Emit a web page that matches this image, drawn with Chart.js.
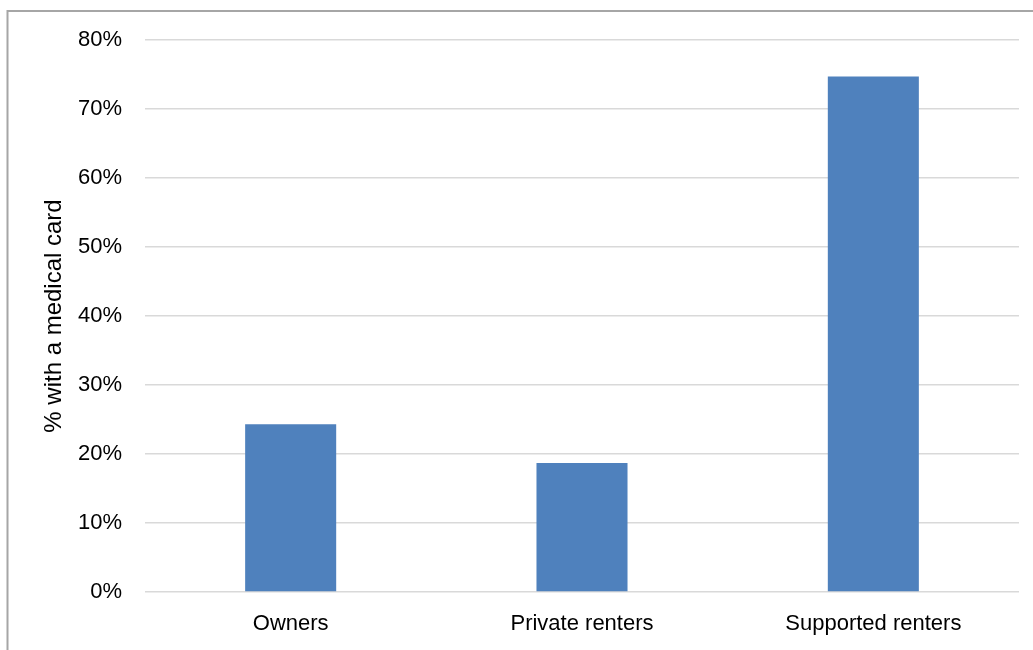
<!DOCTYPE html>
<html>
<head>
<meta charset="utf-8">
<script src="https://cdn.jsdelivr.net/npm/chart.js@4"></script>
<style>
  html, body { margin: 0; padding: 0; background: #fff; }
  #wrap { position: relative; width: 1033px; height: 650px; }
</style>
</head>
<body>
<div id="wrap"><canvas id="medicalChart"></canvas></div>
<script>
const categories = ["Owners", "Private renters", "Supported renters"];
const medicalCardPct = [24.3, 18.7, 74.7];
const yTicks = [0, 10, 20, 30, 40, 50, 60, 70, 80];

// outer frame of the chart (only left and top edges are visible)
const framePlugin = {
    id: 'frame',
    afterDraw(chart) {
        const ctx = chart.ctx;
        ctx.save();
        ctx.strokeStyle = '#a6a6a6';
        ctx.lineWidth = 2;
        ctx.beginPath();
        ctx.moveTo(7.5, 650);
        ctx.lineTo(7.5, 11);
        ctx.lineTo(1033, 11);
        ctx.stroke();
        ctx.restore();
    }
};

const ctx = document.getElementById('medicalChart').getContext('2d');
new Chart(ctx, {
    type: 'bar',
    data: {
        labels: categories,
        datasets: [{
            label: '% with a medical card',
            data: medicalCardPct,
            backgroundColor: '#4f81bd',
            borderWidth: 0,
            barPercentage: 0.3125,
            categoryPercentage: 1
        }]
    },
    options: {
        responsive: true,
        maintainAspectRatio: false,
        animation: false,
        layout: { padding: { top: 40, right: 14, bottom: 0, left: 0 } },
        plugins: {
            legend: { display: false },
            tooltip: { enabled: false }
        },
        scales: {
            x: {
                grid: { display: false, drawTicks: false },
                border: { display: false },
                ticks: {
                    padding: 19,
                    color: '#000',
                    font: { family: "'Liberation Sans', Arial, sans-serif", size: 22 }
                },
                afterFit(scale) { scale.height = 58; }
            },
            y: {
                min: 0,
                max: 80,
                afterBuildTicks(scale) {
                    scale.ticks = yTicks.map(v => ({ value: v }));
                },
                grid: { color: '#d9d9d9', lineWidth: 1.5, drawTicks: false },
                border: { display: false },
                ticks: {
                    padding: 23,
                    color: '#000',
                    font: { family: "'Liberation Sans', Arial, sans-serif", size: 22 },
                    callback: v => v + '%'
                },
                title: {
                    display: true,
                    text: '% with a medical card',
                    color: '#000',
                    padding: { top: 40, bottom: 0 },
                    font: { family: "'Liberation Sans', Arial, sans-serif", size: 24 }
                },
                afterFit(scale) { scale.width = 145; }
            }
        }
    },
    plugins: [framePlugin]
});
</script>
</body>
</html>
